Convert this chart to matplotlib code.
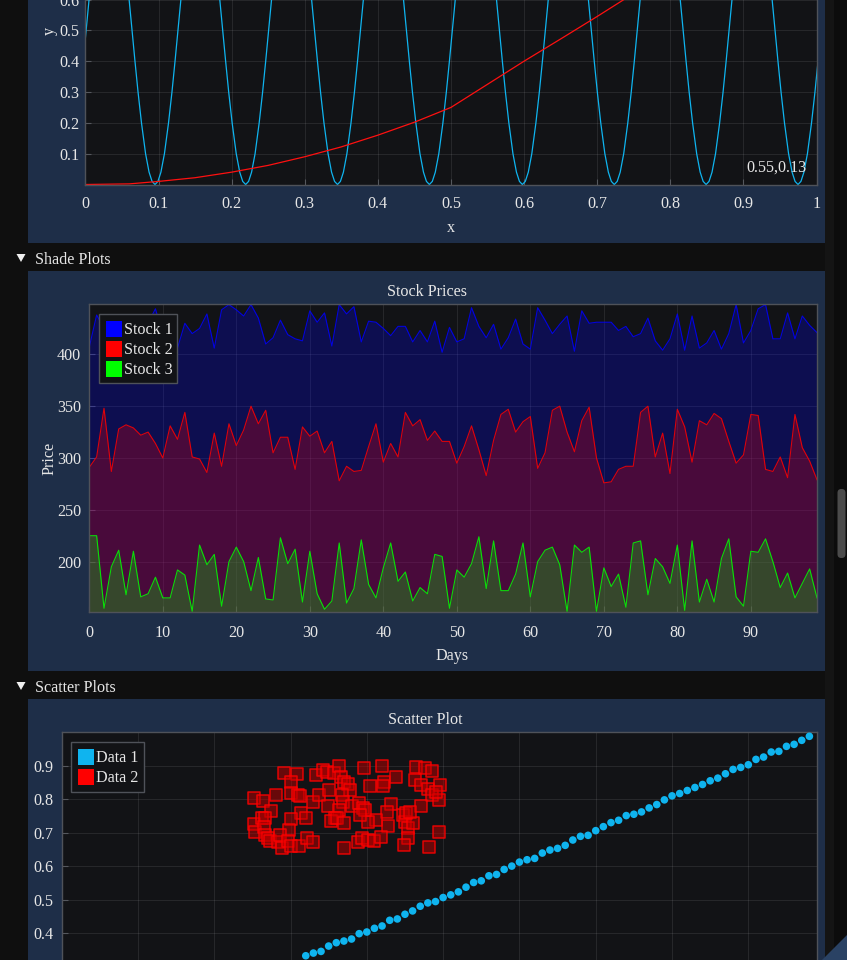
import numpy as np
import matplotlib
matplotlib.use("Agg")
import matplotlib.pyplot as plt
from matplotlib.patches import Rectangle, Polygon, FancyBboxPatch

# ---------------- data ----------------
# top plot (line plots)
sine_troughs = [-0.0304, 0.0952, 0.2192, 0.3448, 0.4705, 0.5977, 0.7234, 0.8490, 0.9747]
arch_levels = [0.0, 0.01, 0.04, 0.1, 0.2, 0.3, 0.4, 0.5, 0.6, 0.7, 0.8, 0.9]
arch_offsets = [0.0, 0.0040, 0.0081, 0.0129, 0.0185, 0.0232, 0.0274, 0.0314, 0.0354, 0.0396, 0.0443, 0.0500]
sq_x = [0.0, 0.06, 0.1, 0.15, 0.2, 0.25, 0.3, 0.35, 0.4, 0.45, 0.5, 0.55, 0.6, 0.65, 0.7, 0.75, 0.8]
sq_y = [0.0, 0.002, 0.010, 0.022, 0.040, 0.062, 0.090, 0.122, 0.160, 0.202, 0.250, 0.325, 0.400, 0.472, 0.545, 0.620, 0.695]
hover_text = "0.55,0.13"
top_xticks = [0, 0.1, 0.2, 0.3, 0.4, 0.5, 0.6, 0.7, 0.8, 0.9, 1.0]
top_xlabels = ["0", "0.1", "0.2", "0.3", "0.4", "0.5", "0.6", "0.7", "0.8", "0.9", "1"]
top_yticks = [0.1, 0.2, 0.3, 0.4, 0.5, 0.6]

# shade plot
days = list(range(100))
stock1 = [407, 438, 425, 432, 415, 420, 428, 410, 430, 444,
          418, 425, 406, 430, 420, 425, 439, 406, 443, 448,
          443, 437, 448, 435, 410, 416, 433, 419, 415, 413,
          442, 431, 440, 408, 448, 439, 446, 412, 432, 431,
          425, 418, 427, 427, 412, 423, 412, 432, 402, 426,
          412, 415, 445, 427, 416, 429, 405, 416, 434, 410,
          405, 445, 433, 420, 429, 437, 403, 442, 430, 431,
          431, 431, 423, 427, 417, 420, 435, 413, 404, 415,
          439, 404, 437, 406, 411, 423, 405, 420, 448, 411,
          423, 444, 448, 415, 415, 440, 415, 437, 428, 421]
stock2 = [291, 301, 348, 287, 328, 332, 329, 322, 325, 314,
          300, 331, 318, 344, 301, 299, 286, 324, 292, 333,
          312, 327, 350, 333, 346, 305, 320, 320, 289, 330,
          321, 326, 305, 316, 278, 292, 287, 288, 311, 333,
          296, 314, 301, 344, 331, 337, 317, 326, 316, 316,
          295, 311, 331, 308, 283, 317, 342, 347, 325, 335,
          340, 290, 305, 346, 350, 325, 306, 336, 349, 300,
          276, 277, 289, 292, 292, 344, 350, 301, 324, 285,
          347, 330, 296, 336, 332, 343, 338, 316, 295, 303,
          342, 341, 289, 287, 301, 281, 342, 310, 297, 279]
stock3 = [225, 225, 155, 195, 211, 168, 210, 166, 169, 185,
          165, 165, 192, 187, 152, 216, 197, 207, 157, 200,
          214, 200, 172, 204, 164, 163, 223, 198, 212, 161,
          210, 169, 154, 162, 218, 160, 174, 221, 178, 165,
          194, 218, 181, 190, 162, 175, 169, 207, 205, 155,
          192, 185, 198, 224, 174, 220, 172, 172, 188, 218,
          166, 200, 211, 214, 197, 152, 216, 209, 214, 152,
          194, 176, 188, 156, 218, 220, 168, 203, 195, 179,
          216, 153, 220, 161, 183, 161, 203, 222, 166, 157,
          210, 209, 222, 200, 175, 189, 165, 179, 193, 165]
stock_names = ["Stock 1", "Stock 2", "Stock 3"]
shade_xticks = [0, 10, 20, 30, 40, 50, 60, 70, 80, 90]
shade_yticks = [200, 250, 300, 350, 400]

# scatter plot
data1_x = np.arange(32, 99) / 100.0
data1_y = [0.332, 0.340, 0.345, 0.361, 0.371, 0.376, 0.382, 0.398, 0.403, 0.414,
           0.421, 0.438, 0.442, 0.456, 0.466, 0.480, 0.490, 0.494,
           0.506, 0.514, 0.523, 0.537, 0.551, 0.556, 0.571, 0.575, 0.590, 0.600,
           0.612, 0.619, 0.623, 0.639, 0.648, 0.653, 0.662, 0.678, 0.689, 0.692,
           0.706, 0.718, 0.730, 0.737, 0.751, 0.755, 0.762, 0.774, 0.784, 0.798,
           0.810, 0.817, 0.826, 0.835, 0.844, 0.855, 0.863, 0.876, 0.889, 0.895,
           0.903, 0.919, 0.926, 0.941, 0.943, 0.958, 0.964, 0.976, 0.988]
data2_x = [0.252, 0.264, 0.275, 0.281, 0.291, 0.309, 0.300, 0.300, 0.310, 0.313,
           0.314, 0.320, 0.301, 0.298, 0.252, 0.254, 0.262, 0.267, 0.265, 0.267,
           0.270, 0.273, 0.284, 0.286, 0.289, 0.297, 0.300, 0.311, 0.322, 0.329,
           0.330, 0.334, 0.337, 0.343, 0.348, 0.351, 0.349, 0.357, 0.364, 0.366,
           0.370, 0.375, 0.378, 0.367, 0.369, 0.364, 0.358, 0.353, 0.361, 0.370,
           0.380, 0.390, 0.395, 0.396, 0.404, 0.420, 0.423, 0.421, 0.438, 0.432,
           0.427, 0.428, 0.412, 0.401, 0.397, 0.391, 0.388, 0.394, 0.402, 0.410,
           0.419, 0.447, 0.450, 0.454, 0.461, 0.454, 0.449, 0.465, 0.476, 0.485,
           0.463, 0.471, 0.480, 0.486, 0.496, 0.495, 0.491, 0.471, 0.494, 0.482,
           0.370, 0.452, 0.457]
data2_y = [0.803, 0.795, 0.765, 0.814, 0.879, 0.876, 0.850, 0.820, 0.812, 0.810,
           0.758, 0.745, 0.740, 0.708, 0.725, 0.703, 0.745, 0.743, 0.718, 0.693,
           0.683, 0.675, 0.673, 0.693, 0.653, 0.675, 0.661, 0.661, 0.683, 0.671,
           0.793, 0.872, 0.814, 0.887, 0.880, 0.827, 0.781, 0.877, 0.899, 0.867,
           0.850, 0.844, 0.827, 0.814, 0.793, 0.768, 0.745, 0.735, 0.743, 0.728,
           0.780, 0.788, 0.775, 0.892, 0.839, 0.899, 0.850, 0.840, 0.867, 0.785,
           0.761, 0.720, 0.738, 0.733, 0.768, 0.753, 0.673, 0.685, 0.678, 0.675,
           0.688, 0.753, 0.733, 0.713, 0.728, 0.683, 0.663, 0.897, 0.892, 0.884,
           0.857, 0.842, 0.829, 0.812, 0.842, 0.798, 0.822, 0.781, 0.703, 0.658,
           0.653, 0.758, 0.761]
scatter_names = ["Data 1", "Data 2"]
scatter_xticks = [0.1, 0.2, 0.3, 0.4, 0.5, 0.6, 0.7, 0.8, 0.9]
scatter_yticks = [0.4, 0.5, 0.6, 0.7, 0.8, 0.9]

# ---------------- style ----------------
W, H = 847, 960
BG = "#0f0f0f"
PANEL = "#1e2e48"
PLOTBG = "#121316"
BORDER = "#4f5259"
TXT = "#e6e6e6"
CYAN = "#0fb4ef"
FONT = ["Liberation Serif", "DejaVu Serif"]
FS = 11.6

plt.rcParams["font.family"] = FONT
plt.rcParams["font.size"] = FS
plt.rcParams["text.color"] = TXT

fig = plt.figure(figsize=(W / 100, H / 100), dpi=100, facecolor=BG)


def fr(x0, y0, x1, y1):
    return [x0 / W, 1 - y1 / H, (x1 - x0) / W, (y1 - y0) / H]


def prect(x0, y0, x1, y1, color, z=-5, **kw):
    r = Rectangle((x0 / W, 1 - y1 / H), (x1 - x0) / W, (y1 - y0) / H,
                  transform=fig.transFigure, facecolor=color, edgecolor=kw.pop("ec", "none"),
                  lw=kw.pop("lw", 0), zorder=z, **kw)
    fig.add_artist(r)
    return r


def ptext(x, y, s, z=6, **kw):
    fig.text(x / W, 1 - y / H, s, zorder=z, **kw)


def style_axes(ax):
    ax.set_facecolor(PLOTBG)
    for sp in ax.spines.values():
        sp.set_color(BORDER)
        sp.set_linewidth(1.0)
    ax.set_axisbelow(True)
    ax.tick_params(direction="in", length=4, width=0.8, color="#55585e",
                   labelcolor=TXT, labelsize=FS)


def finish_grid(ax):
    ax.grid(True, color="white", alpha=0.085, lw=0.8)


# scrollbar column
prect(825, 0, 834, H, "#141414", z=-6)
prect(834, 0, 847, H, "#0c0c0c", z=-6)
thumb = FancyBboxPatch((837.5 / W, 1 - 558 / H), 8 / W, 69 / H,
                       boxstyle="round,pad=0,rounding_size=0.0045",
                       transform=fig.transFigure, facecolor="#4b4b4b", edgecolor="none",
                       zorder=-4, mutation_aspect=W / H)
fig.add_artist(thumb)

# panels
prect(28, -10, 825, 242.5, PANEL)
prect(28, 270.7, 825, 670.7, PANEL)
prect(28, 699, 825, 970, PANEL)

# section headers
for yc, label in [(258.5, "Shade Plots"), (686.5, "Scatter Plots")]:
    tri = Polygon([(16.5 / W, 1 - (yc - 4.5) / H), (25.5 / W, 1 - (yc - 4.5) / H),
                   (21 / W, 1 - (yc + 3.5) / H)], closed=True, transform=fig.transFigure,
                  facecolor="#f0f0f0", edgecolor="none", zorder=6)
    fig.add_artist(tri)
    ptext(35, yc + 1.5, label, ha="left", va="center", color=TXT)

# resize grip
grip = Polygon([(822 / W, 0), (847 / W, 25 / H), (847 / W, 0)], closed=True,
               transform=fig.transFigure, facecolor="#2a4264", edgecolor="none", zorder=7)
fig.add_artist(grip)

# ---------------- top line plot ----------------
ax1 = fig.add_axes(fr(85.4, -123.8, 816.5, 184.5))
style_axes(ax1)
lx, ly = [], []
for k, t in enumerate(sine_troughs):
    if k > 0:
        lx.append((sine_troughs[k - 1] + t) / 2)
        ly.append(1.0)
    for lev, off in zip(arch_levels[::-1], arch_offsets[::-1]):
        if off > 0:
            lx.append(t - off)
            ly.append(lev)
    lx.append(t)
    ly.append(0.0)
    for lev, off in zip(arch_levels, arch_offsets):
        if off > 0:
            lx.append(t + off)
            ly.append(lev)
ax1.plot(lx, ly, color=CYAN, lw=0.9)
ax1.plot(sq_x, sq_y, color="#ff1010", lw=0.9)
ax1.set_xlim(0, 1)
ax1.set_ylim(0, 1)
ax1.set_xticks(top_xticks, top_xlabels)
ax1.set_yticks(top_yticks)
ax1.yaxis.set_major_formatter(matplotlib.ticker.FormatStrFormatter("%.1f"))
ax1.tick_params(axis="x", pad=8)
ax1.tick_params(axis="y", pad=4)
finish_grid(ax1)
ptext(451, 228, "x", ha="center", va="center")
ptext(50, 31, "y", ha="center", va="center", rotation=90)
ptext(806, 168, hover_text, ha="right", va="center", z=8)

# ---------------- shade plot ----------------
ax2 = fig.add_axes(fr(89.3, 304.3, 817, 612.3))
style_axes(ax2)
cols = ["#0000ff", "#ff0000", "#00ff00"]
for s, c in zip([stock1, stock2, stock3], cols):
    ax2.fill_between(days, s, 0, color=c, alpha=0.25, lw=0)
for s, c in zip([stock1, stock2, stock3], cols):
    ax2.plot(days, s, color=c, lw=0.8, alpha=0.85)
ax2.set_xlim(0, 99)
ax2.set_ylim(151.1, 448.3)
ax2.set_xticks(shade_xticks)
ax2.set_yticks(shade_yticks)
ax2.tick_params(axis="x", pad=9)
ax2.tick_params(axis="y", pad=6)
finish_grid(ax2)
ptext(426.5, 292, "Stock Prices", ha="center", va="center")
ptext(452.5, 656, "Days", ha="center", va="center")
ptext(49, 458, "Price", ha="center", va="center", rotation=90)

# legend (shade)
prect(99.3, 314.3, 177.3, 383.3, PLOTBG, z=8, ec=BORDER, lw=1)
for i, (name, c) in enumerate(zip(stock_names, cols)):
    y0 = 321 + i * 20
    prect(106, y0, 121.7, y0 + 15.7, c, z=9)
    ptext(124, y0 + 9, name, ha="left", va="center", z=9)

# ---------------- scatter plot ----------------
ax3 = fig.add_axes(fr(61.6, 732.3, 817, 1066.8))
style_axes(ax3)
ax3.scatter(data1_x, data1_y, s=30, color=CYAN, edgecolors="none", zorder=3)
ax3.scatter(data2_x, data2_y, s=68, marker="s", facecolor=(0.75, 0.0, 0.0, 0.5),
            edgecolor=(1.0, 0.0, 0.0, 0.85), linewidths=1.1, zorder=4)
ax3.set_xlim(0, 0.99)
ax3.set_ylim(0, 1.0)
ax3.set_xticks(scatter_xticks)
ax3.set_yticks(scatter_yticks)
ax3.yaxis.set_major_formatter(matplotlib.ticker.FormatStrFormatter("%.1f"))
ax3.tick_params(axis="y", pad=6)
ax3.tick_params(axis="x", labelbottom=False)
finish_grid(ax3)
ptext(425.5, 720, "Scatter Plot", ha="center", va="center")

# legend (scatter)
prect(71.3, 742.3, 143.7, 791.7, PLOTBG, z=8, ec=BORDER, lw=1)
for i, (name, c) in enumerate(zip(scatter_names, [CYAN, "#ff0000"])):
    y0 = 749 + i * 20
    prect(78, y0, 93.7, y0 + 15.7, c, z=9)
    ptext(96, y0 + 9, name, ha="left", va="center", z=9)

fig.savefig("out.png", dpi=100, facecolor=BG)
